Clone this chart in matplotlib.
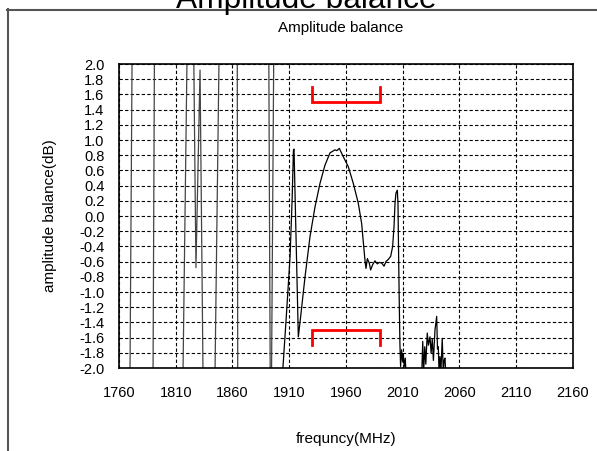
import numpy as np
import matplotlib
matplotlib.use("Agg")
import matplotlib.pyplot as plt
from matplotlib.lines import Line2D

plt.rcParams['font.family'] = ['Liberation Sans', 'DejaVu Sans']

# ---- data ----
# out-of-band steep transitions (NaN separates segments)
wild_freq = [1769.7, 1771.5, np.nan,
             1790.0, 1791.2, np.nan,
             1816.4, 1819.9, np.nan,
             1825.9, 1827.8, 1831.4, 1834.0, np.nan,
             1844.6, 1848.1, np.nan,
             1864.2, 1864.6, np.nan,
             1892.0, 1893.2, np.nan,
             1894.4, 1896.3, np.nan]
wild_val = [-2.05, 2.05, np.nan,
            -2.05, 2.05, np.nan,
            -2.05, 2.05, np.nan,
            2.05, -0.68, 1.92, -2.05, np.nan,
            -2.05, 2.05, np.nan,
            2.05, -2.05, np.nan,
            2.05, -2.05, np.nan,
            -2.05, 2.05, np.nan]

# main measured curve
main_freq = [1904.2, 1907.5, 1910.7, 1912.5, 1913.7, 1914.2, 1918.0, 1920.0, 1923.9,
             1928.3, 1932.7, 1937.1, 1941.5, 1945.9, 1948.0, 1950.3, 1952.0, 1954.1,
             1957.6, 1962.0, 1966.4, 1970.8, 1973.8, 1975.9, 1976.7, 1977.6,
             1978.8, 1980.5, 1981.7, 1983.5, 1985.5, 1987.6, 1989.3, 1991.5,
             1993.5, 1995.2, 1997.3, 1999.4, 2001.1, 2002.3, 2003.2, 2004.0,
             2005.2, 2005.8, 2006.3, 2006.9, 2007.5, 2008.1, 2009.0, 2009.9,
             2010.4, 2011.3, 2012.2, 2012.8]
main_val = [-2.05, -1.30, -0.54, 0.20, 0.87, 0.88, -1.59, -1.33, -0.80,
            -0.27, 0.12, 0.43, 0.67, 0.83, 0.85, 0.87, 0.86, 0.89,
            0.78, 0.65, 0.43, 0.17, -0.10, -0.45, -0.58, -0.69,
            -0.56, -0.62, -0.71, -0.64, -0.59, -0.63, -0.61, -0.62,
            -0.66, -0.60, -0.57, -0.53, -0.40, -0.14, 0.17, 0.30,
            0.34, 0.17, -0.45, -1.11, -1.68, -1.98, -1.76, -1.92,
            -1.81, -1.98, -1.87, -2.05]

# noise burst above band
noise_freq = [2026.8, 2027.6, 2028.4, 2029.4, 2030.3, 2031.6, 2032.6, 2034.0, 2035.0,
              2036.0, 2037.0, 2038.4, 2039.9, 2040.6, 2041.3, 2042.0, 2042.8, 2043.6,
              2044.8, 2045.7, 2046.4, 2047.2, 2047.8]
noise_val = [-2.05, -1.65, -2.05, -1.72, -1.95, -1.54, -1.70, -1.59, -1.80,
             -1.62, -1.90, -1.50, -1.32, -1.75, -1.72, -2.05, -1.85, -2.05,
             -1.61, -2.05, -1.90, -1.87, -2.05]

# specification band
spec_lo, spec_hi = 1930, 1990
spec_upper, spec_lower = 1.5, -1.5
spec_tick = 0.2

xticks = [1760, 1810, 1860, 1910, 1960, 2010, 2060, 2110, 2160]
yticks = [round(-2.0 + 0.2 * i, 1) for i in range(21)]

# ---- figure ----
fig = plt.figure(figsize=(5.97, 4.51), dpi=100)
ax = fig.add_axes([119/597, 1 - 368/451, (573-119)/597, (368-64)/451])

ax.plot(wild_freq, wild_val, color='#444444', lw=0.9)
ax.plot(main_freq, main_val, color='black', lw=0.9)
ax.plot(noise_freq, noise_val, color='black', lw=0.9)

# red spec brackets
ax.plot([spec_lo, spec_lo, spec_hi, spec_hi],
        [spec_upper + spec_tick, spec_upper, spec_upper, spec_upper + spec_tick],
        color='red', lw=2, solid_joinstyle='miter')
ax.plot([spec_lo, spec_lo, spec_hi, spec_hi],
        [spec_lower - spec_tick, spec_lower, spec_lower, spec_lower - spec_tick],
        color='red', lw=2, solid_joinstyle='miter')

ax.set_xlim(1760, 2160)
ax.set_ylim(-2.0, 2.0)
ax.set_xticks(xticks)
ax.set_xticklabels([str(t) for t in xticks])
ax.set_yticks(yticks)
ax.set_yticklabels([f"{t:.1f}" for t in yticks])
ax.tick_params(axis='both', length=0, labelsize=10.5, colors='black')
ax.tick_params(axis='x', pad=13)
ax.tick_params(axis='y', pad=10.5)
ax.grid(True, color='black', linestyle=(0, (3, 2)), lw=0.8)
for s in ax.spines.values():
    s.set_color('black')
    s.set_linewidth(1.2)

ax.set_xlabel('frequncy(MHz)', fontsize=11, labelpad=23)
ax.set_ylabel('amplitude balance(dB)', fontsize=11, labelpad=16)

fig.text(341/597, 1 - 28/451, 'Amplitude balance', ha='center', va='center', fontsize=11)
fig.text(306/597, 1 - 8/451, 'Amplitude balance', ha='center', va='baseline', fontsize=22.8)

# outer frame (partially visible)
fig.add_artist(Line2D([7.5/597, 7.5/597], [0, 1 - 9/451], transform=fig.transFigure,
                      color='#555555', lw=1.5))
fig.add_artist(Line2D([7/597, 1], [1 - 9.5/451, 1 - 9.5/451], transform=fig.transFigure,
                      color='#555555', lw=1.5))

fig.savefig('out.png', dpi=100)
